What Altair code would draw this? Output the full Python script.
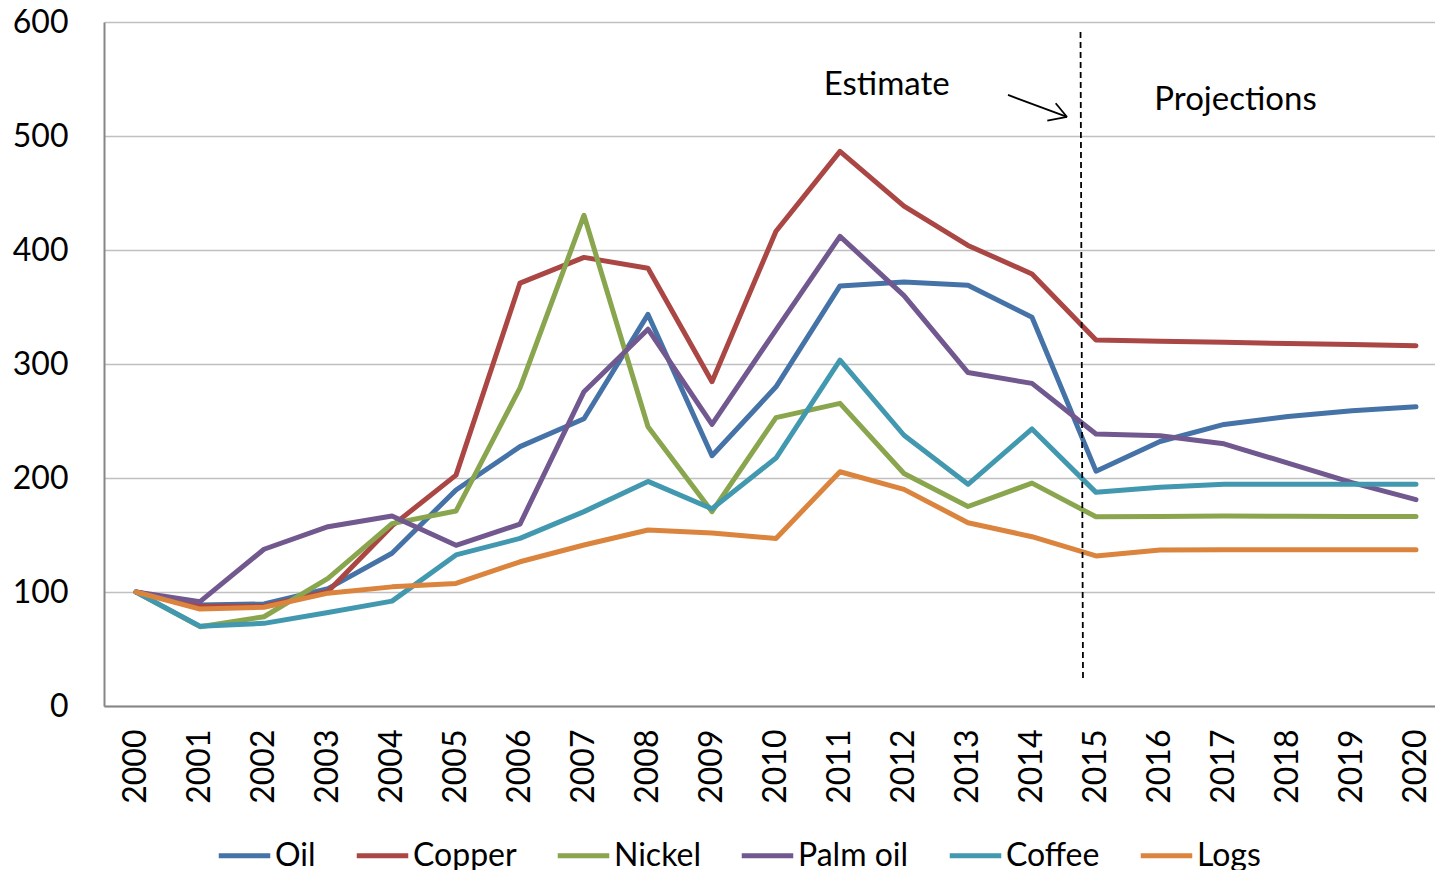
import altair as alt
import pandas as pd

# Commodity price indices, 2000 = 100
years = list(range(2000, 2021))
series = ["Oil", "Copper", "Nickel", "Palm oil", "Coffee", "Logs"]
colors = ["#4572A7", "#AA4643", "#89A54E", "#71588F", "#4198AF", "#DB843D"]

oil = [100, 88.6, 89.5, 103, 134, 189.5, 227.5, 252, 343.5, 219.5, 280,
       368.5, 372, 369, 341, 206, 232, 247, 254, 259, 262.5]
copper = [100, 87.5, 87.5, 100.5, 158, 202.5, 371, 393.5, 384, 284.5, 416.5,
          486.5, 438.5, 404, 379, 321, 320, 319, 318, 317, 316]
nickel = [100, 69.6, 78.3, 112, 160, 171, 279, 430.5, 245, 170.5, 253,
          265.5, 204, 175, 195.5, 166, 166.3, 166.7, 166.5, 166.3, 166.3]
palm_oil = [100, 91.5, 137.5, 157.3, 166.7, 141, 159.6, 275.7, 330.5, 247, 330,
            412, 360, 292.5, 283, 238.6, 237, 230, 213, 196, 181]
coffee = [100, 70, 72.5, 82, 92, 132.5, 147, 170.5, 197, 173, 217.5,
          303.5, 237.5, 194.5, 243, 187.4, 191.8, 194.5, 194.5, 194.5, 194.5]
logs = [100, 85, 86.6, 99, 104.5, 107.5, 126.5, 141.2, 154.4, 151.8, 147,
        205.5, 190, 160.8, 148.5, 131.6, 136.8, 137, 137, 137, 137]

values = [oil, copper, nickel, palm_oil, coffee, logs]
y_ticks = [0, 100, 200, 300, 400, 500, 600]

# Divider between estimates and projections (slightly slanted), plus arrow and labels
divider = pd.DataFrame({"x": [2014.758], "x2": [2014.797], "y": [591.2], "y2": [21.9]})
arrow = pd.DataFrame({
    "x": [2013.625, 2014.37, 2014.239],
    "y": [536.0, 528.7, 513.4],
    "x2": [2014.547, 2014.547, 2014.547],
    "y2": [516.7, 516.7, 516.7],
})
notes = pd.DataFrame({
    "x": [2011.73, 2017.18],
    "y": [536.0, 522.8],
    "label": ["Estimate", "Projections"],
})

FONT = "Lato"
FS = 32

x_scale = alt.Scale(domain=[1999.5, 2020.297], nice=False, zero=False)
y_scale = alt.Scale(domain=[0, 600], nice=False)

x_axis = alt.Axis(values=years, format="d", labelAngle=270, grid=False, ticks=False,
                  tickSize=0, labelPadding=23, labelFlush=False, labelOverlap=False,
                  domainColor="#868686", domainWidth=2, title=None)
y_axis = alt.Axis(values=y_ticks, grid=True, gridColor="#c0c0c0", gridWidth=1.3,
                  ticks=False, tickSize=0, labelPadding=36, domainColor="#868686",
                  domainWidth=2, title=None)


def X(field="x"):
    return alt.X(f"{field}:Q", scale=x_scale, axis=x_axis, title=None)


def Y(field="y"):
    return alt.Y(f"{field}:Q", scale=y_scale, axis=y_axis, title=None)


legend = alt.Legend(orient="none", legendX=112, legendY=805, direction="horizontal",
                    title=None, symbolType="stroke", symbolSize=2652,
                    symbolStrokeWidth=5, labelFont=FONT, labelFontSize=FS,
                    labelColor="black", labelOffset=2, columnPadding=30, padding=0,
                    labelLimit=0)

color = alt.Color("series:N", scale=alt.Scale(domain=series, range=colors), legend=legend)

layers = []
for name, vals in zip(series, values):
    df = pd.DataFrame({"x": years, "y": vals, "series": name})
    layers.append(
        alt.Chart(df).mark_line(strokeWidth=5, strokeCap="round", strokeJoin="round")
        .encode(x=X(), y=Y(), color=color)
    )

layers.append(
    alt.Chart(divider).mark_rule(color="black", strokeWidth=1.8, strokeDash=[6, 4])
    .encode(x=X(), x2="x2:Q", y=Y(), y2="y2:Q")
)
layers.append(
    alt.Chart(arrow).mark_rule(color="black", strokeWidth=1.8)
    .encode(x=X(), x2="x2:Q", y=Y(), y2="y2:Q")
)
layers.append(
    alt.Chart(notes).mark_text(font=FONT, fontSize=33, color="black",
                               align="center", baseline="alphabetic")
    .encode(x=X(), y=Y(), text="label:N")
)

chart = alt.layer(*layers).properties(
    width=1331,
    height=684,
    autosize=alt.AutoSizeParams(type="none"),
    padding={"left": 104, "top": 22, "right": 0, "bottom": 164},
).configure_view(stroke=None).configure_axis(
    labelFont=FONT, labelFontSize=FS, labelColor="black"
)

chart.save("out.html", embed_options={"renderer": "svg", "actions": False})
